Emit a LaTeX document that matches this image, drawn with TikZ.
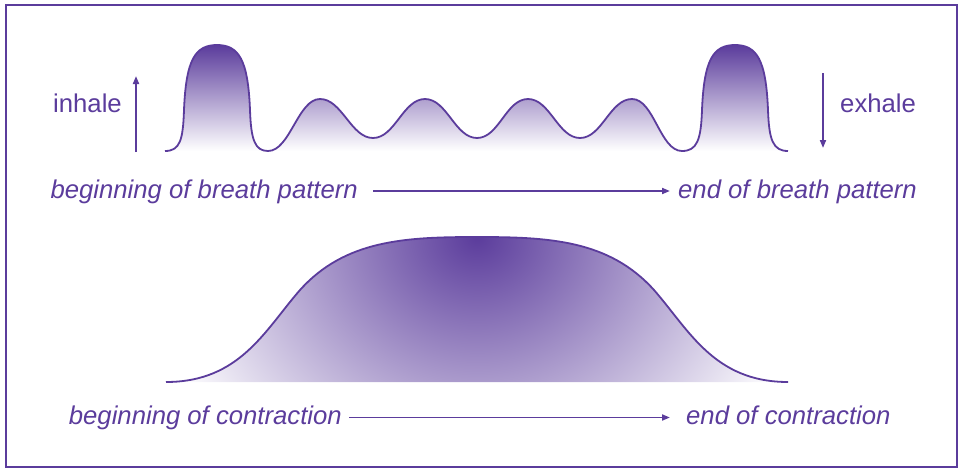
\documentclass[tikz,border=0pt]{standalone}
\usepackage{fontspec}
\setmainfont{Liberation Sans}
\usepackage{xcolor}
\usetikzlibrary{arrows.meta, positioning}
\definecolor{breath}{HTML}{5B3C9C}
\tikzset{
    wave/.style={
        draw=breath, line width=1.8pt, line join=round,
    },
    arr/.style={
        -{Triangle[length=8pt, width=6pt]}, breath, line width=1.8pt,
    },
    sidelabel/.style={
        font=\fontsize{25.7}{30}\selectfont\color{breath},
        inner sep=0pt, text height=19pt, text depth=5pt,
    },
    timelabel/.style={
        sidelabel, font=\fontsize{25.7}{30}\selectfont\itshape\color{breath},
    },
}

\begin{document}
\begin{tikzpicture}[x=1pt, y=-1pt]

\useasboundingbox (0,0) rectangle (963,471);

% ═══ FRAME ═══
\draw[breath, line width=2.5pt] (6,5) rectangle (957,467);

% ═══ BREATH PATTERN (top) ═══
\shade[top color=breath, bottom color=white]
    (165,151) .. controls (180,151) and (183,140) .. (184,110)
    .. controls (186,60) and (195,45) .. (217,45)
    .. controls (239,45) and (248,60) .. (250,110)
    .. controls (251,140) and (255,151) .. (268,151)
    .. controls (290,151) and (298,99) .. (320,99)
    .. controls (342,99) and (351,138) .. (373,138)
    .. controls (395,138) and (403,99) .. (425,99)
    .. controls (447,99) and (455,138) .. (477,138)
    .. controls (499,138) and (506,99) .. (528,99)
    .. controls (550,99) and (558,138) .. (580,138)
    .. controls (602,138) and (610,99) .. (632,99)
    .. controls (654,99) and (660,151) .. (682,151)
    .. controls (697,151) and (701,140) .. (702,110)
    .. controls (704,60) and (713,45) .. (735,45)
    .. controls (757,45) and (766,60) .. (768,110)
    .. controls (769,140) and (773,151) .. (788,151) -- cycle;
\draw[wave]
    (165,151) .. controls (180,151) and (183,140) .. (184,110)
    .. controls (186,60) and (195,45) .. (217,45)
    .. controls (239,45) and (248,60) .. (250,110)
    .. controls (251,140) and (255,151) .. (268,151)
    .. controls (290,151) and (298,99) .. (320,99)
    .. controls (342,99) and (351,138) .. (373,138)
    .. controls (395,138) and (403,99) .. (425,99)
    .. controls (447,99) and (455,138) .. (477,138)
    .. controls (499,138) and (506,99) .. (528,99)
    .. controls (550,99) and (558,138) .. (580,138)
    .. controls (602,138) and (610,99) .. (632,99)
    .. controls (654,99) and (660,151) .. (682,151)
    .. controls (697,151) and (701,140) .. (702,110)
    .. controls (704,60) and (713,45) .. (735,45)
    .. controls (757,45) and (766,60) .. (768,110)
    .. controls (769,140) and (773,151) .. (788,151);

% inhale / exhale
\node[sidelabel, anchor=base west] (inhale) at (53,112) {inhale};
\coordinate (inlo) at (136,152);
\coordinate (inhi) at (136,76);
\draw[arr] (inlo) -- (inhi);

\node[sidelabel, anchor=base west] (exhale) at (840,112) {exhale};
\coordinate (exhi) at (823,73);
\coordinate (exlo) at (823,148);
\draw[arr] (exhi) -- (exlo);

% timeline
\node[timelabel, anchor=base east] (bbreath) at (358,198) {beginning of breath pattern};
\node[timelabel, anchor=base west] (ebreath) at (678,198) {end of breath pattern};
\draw[arr, shorten <=15pt, shorten >=8pt] (bbreath.east) -- (ebreath.west);

% ═══ CONTRACTION (bottom) ═══
\begin{scope}
\clip (166,382) .. controls (240,382) and (265,330) .. (300,290)
    .. controls (345,240) and (405,237) .. (477,237)
    .. controls (549,237) and (609,240) .. (654,290)
    .. controls (689,330) and (714,382) .. (788,382) -- cycle;
\shade[inner color=breath, outer color=white]
    (477,237) ellipse [x radius=340pt, y radius=300pt];
\end{scope}
\draw[wave] (166,382) .. controls (240,382) and (265,330) .. (300,290)
    .. controls (345,240) and (405,237) .. (477,237)
    .. controls (549,237) and (609,240) .. (654,290)
    .. controls (689,330) and (714,382) .. (788,382);

\node[timelabel, anchor=base east] (bcontr) at (342,424.5) {beginning of contraction};
\node[timelabel, anchor=base west] (econtr) at (686,424.5) {end of contraction};
\draw[arr, shorten <=7pt, shorten >=16pt] (bcontr.east) -- (econtr.west);

\end{tikzpicture}
\end{document}
